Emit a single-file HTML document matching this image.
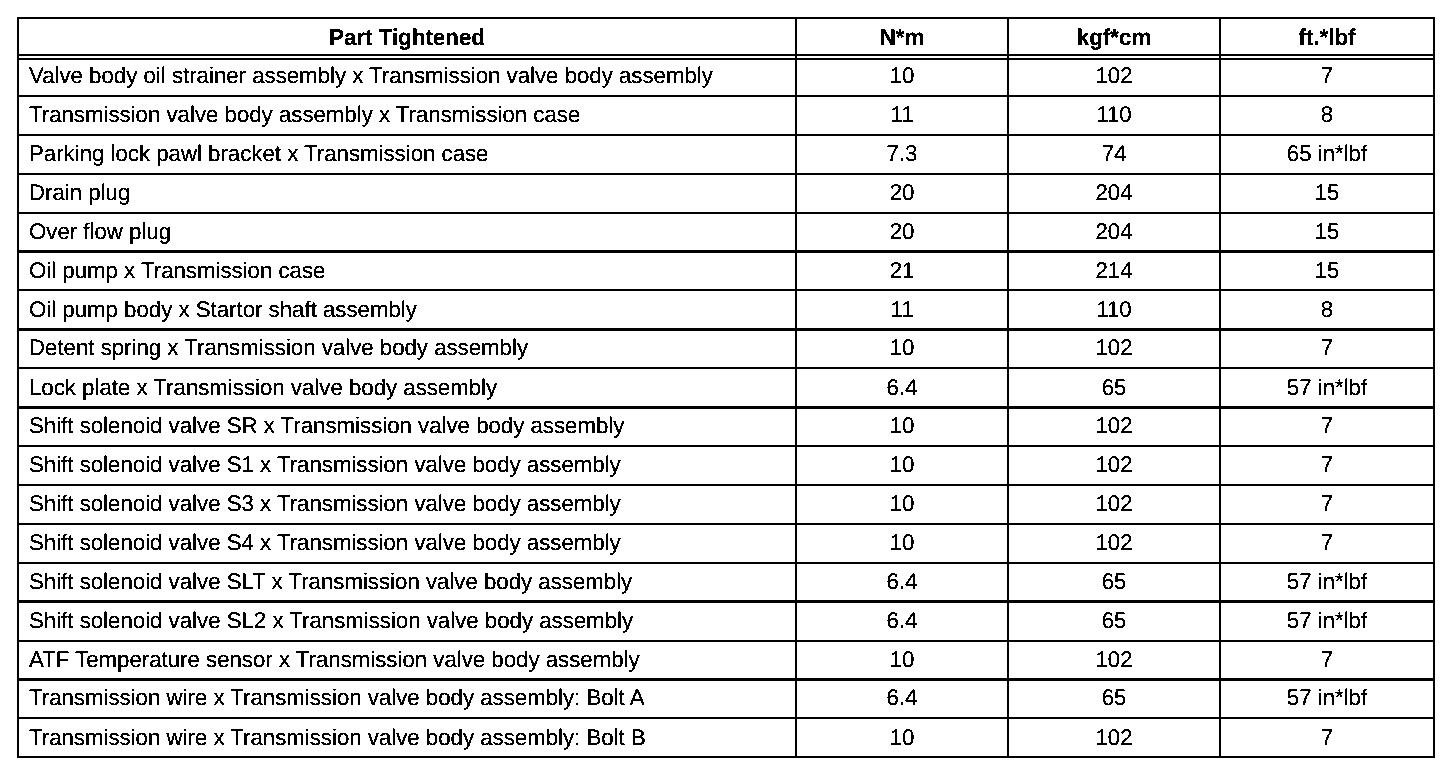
<!DOCTYPE html>
<html><head><meta charset="utf-8"><style>
html,body{margin:0;padding:0;background:#fff;width:1456px;height:774px;overflow:hidden}
svg{display:block}
text{font-family:"Liberation Sans",sans-serif;font-size:22.6px;fill:#000;text-rendering:geometricPrecision}
text.b{font-weight:bold;font-size:23.0px;text-rendering:geometricPrecision}
</style></head><body>
<svg width="1456" height="774" viewBox="0 0 1456 774">
<defs><filter id="th" filterUnits="userSpaceOnUse" x="0" y="0" width="1456" height="774" color-interpolation-filters="sRGB"><feComponentTransfer><feFuncA type="discrete" tableValues="0 1 1"/></feComponentTransfer></filter></defs>
<g shape-rendering="crispEdges"><rect x="17" y="17" width="1418" height="2"/>
<rect x="17" y="54" width="1418" height="2"/>
<rect x="17" y="58" width="1418" height="2"/>
<rect x="17" y="95" width="1418" height="2"/>
<rect x="17" y="134" width="1418" height="2"/>
<rect x="17" y="173" width="1418" height="2"/>
<rect x="17" y="212" width="1418" height="2"/>
<rect x="17" y="250" width="1418" height="3"/>
<rect x="17" y="289" width="1418" height="2"/>
<rect x="17" y="328" width="1418" height="3"/>
<rect x="17" y="367" width="1418" height="2"/>
<rect x="17" y="406" width="1418" height="3"/>
<rect x="17" y="445" width="1418" height="2"/>
<rect x="17" y="484" width="1418" height="2"/>
<rect x="17" y="523" width="1418" height="2"/>
<rect x="17" y="562" width="1418" height="2"/>
<rect x="17" y="600" width="1418" height="3"/>
<rect x="17" y="640" width="1418" height="2"/>
<rect x="17" y="678" width="1418" height="3"/>
<rect x="17" y="717" width="1418" height="2"/>
<rect x="17" y="756" width="1418" height="2"/>
<rect x="17" y="17" width="2" height="741"/>
<rect x="795" y="17" width="2" height="741"/>
<rect x="1007" y="17" width="2" height="741"/>
<rect x="1219" y="17" width="2" height="741"/>
<rect x="1433" y="17" width="2" height="741"/></g>
<g filter="url(#th)"><text class="b" x="0" y="0" transform="translate(407.0 45) scale(0.9717 1)" text-anchor="middle">Part Tightened</text>
<text class="b" x="0" y="0" transform="translate(902.0 45) scale(0.9717 1)" text-anchor="middle">N*m</text>
<text class="b" x="0" y="0" transform="translate(1114.0 45) scale(0.9717 1)" text-anchor="middle">kgf*cm</text>
<text class="b" x="0" y="0" transform="translate(1327.0 45) scale(0.9717 1)" text-anchor="middle">ft.*lbf</text>
<text transform="translate(29 83) scale(0.98363 1)">Valve body oil strainer assembly x Transmission valve body assembly</text>
<text transform="translate(902.0 83) scale(0.98363 1)" text-anchor="middle">10</text>
<text transform="translate(1114.0 83) scale(0.98363 1)" text-anchor="middle">102</text>
<text transform="translate(1327.0 83) scale(0.98363 1)" text-anchor="middle">7</text>
<text transform="translate(29 122) scale(0.98363 1)">Transmission valve body assembly x Transmission case</text>
<text transform="translate(902.0 122) scale(0.98363 1)" text-anchor="middle">11</text>
<text transform="translate(1114.0 122) scale(0.98363 1)" text-anchor="middle">110</text>
<text transform="translate(1327.0 122) scale(0.98363 1)" text-anchor="middle">8</text>
<text transform="translate(29 161) scale(0.98363 1)">Parking lock pawl bracket x Transmission case</text>
<text transform="translate(902.0 161) scale(0.98363 1)" text-anchor="middle">7.3</text>
<text transform="translate(1114.0 161) scale(0.98363 1)" text-anchor="middle">74</text>
<text transform="translate(1327.0 161) scale(0.98363 1)" text-anchor="middle">65 in*lbf</text>
<text transform="translate(29 200) scale(0.98363 1)">Drain plug</text>
<text transform="translate(902.0 200) scale(0.98363 1)" text-anchor="middle">20</text>
<text transform="translate(1114.0 200) scale(0.98363 1)" text-anchor="middle">204</text>
<text transform="translate(1327.0 200) scale(0.98363 1)" text-anchor="middle">15</text>
<text transform="translate(29 239) scale(0.98363 1)">Over flow plug</text>
<text transform="translate(902.0 239) scale(0.98363 1)" text-anchor="middle">20</text>
<text transform="translate(1114.0 239) scale(0.98363 1)" text-anchor="middle">204</text>
<text transform="translate(1327.0 239) scale(0.98363 1)" text-anchor="middle">15</text>
<text transform="translate(29 278) scale(0.98363 1)">Oil pump x Transmission case</text>
<text transform="translate(902.0 278) scale(0.98363 1)" text-anchor="middle">21</text>
<text transform="translate(1114.0 278) scale(0.98363 1)" text-anchor="middle">214</text>
<text transform="translate(1327.0 278) scale(0.98363 1)" text-anchor="middle">15</text>
<text transform="translate(29 317) scale(0.98363 1)">Oil pump body x Startor shaft assembly</text>
<text transform="translate(902.0 317) scale(0.98363 1)" text-anchor="middle">11</text>
<text transform="translate(1114.0 317) scale(0.98363 1)" text-anchor="middle">110</text>
<text transform="translate(1327.0 317) scale(0.98363 1)" text-anchor="middle">8</text>
<text transform="translate(29 355) scale(0.98363 1)">Detent spring x Transmission valve body assembly</text>
<text transform="translate(902.0 355) scale(0.98363 1)" text-anchor="middle">10</text>
<text transform="translate(1114.0 355) scale(0.98363 1)" text-anchor="middle">102</text>
<text transform="translate(1327.0 355) scale(0.98363 1)" text-anchor="middle">7</text>
<text transform="translate(29 395) scale(0.98363 1)">Lock plate x Transmission valve body assembly</text>
<text transform="translate(902.0 395) scale(0.98363 1)" text-anchor="middle">6.4</text>
<text transform="translate(1114.0 395) scale(0.98363 1)" text-anchor="middle">65</text>
<text transform="translate(1327.0 395) scale(0.98363 1)" text-anchor="middle">57 in*lbf</text>
<text transform="translate(29 433) scale(0.98363 1)">Shift solenoid valve SR x Transmission valve body assembly</text>
<text transform="translate(902.0 433) scale(0.98363 1)" text-anchor="middle">10</text>
<text transform="translate(1114.0 433) scale(0.98363 1)" text-anchor="middle">102</text>
<text transform="translate(1327.0 433) scale(0.98363 1)" text-anchor="middle">7</text>
<text transform="translate(29 472) scale(0.98363 1)">Shift solenoid valve S1 x Transmission valve body assembly</text>
<text transform="translate(902.0 472) scale(0.98363 1)" text-anchor="middle">10</text>
<text transform="translate(1114.0 472) scale(0.98363 1)" text-anchor="middle">102</text>
<text transform="translate(1327.0 472) scale(0.98363 1)" text-anchor="middle">7</text>
<text transform="translate(29 511) scale(0.98363 1)">Shift solenoid valve S3 x Transmission valve body assembly</text>
<text transform="translate(902.0 511) scale(0.98363 1)" text-anchor="middle">10</text>
<text transform="translate(1114.0 511) scale(0.98363 1)" text-anchor="middle">102</text>
<text transform="translate(1327.0 511) scale(0.98363 1)" text-anchor="middle">7</text>
<text transform="translate(29 550) scale(0.98363 1)">Shift solenoid valve S4 x Transmission valve body assembly</text>
<text transform="translate(902.0 550) scale(0.98363 1)" text-anchor="middle">10</text>
<text transform="translate(1114.0 550) scale(0.98363 1)" text-anchor="middle">102</text>
<text transform="translate(1327.0 550) scale(0.98363 1)" text-anchor="middle">7</text>
<text transform="translate(29 589) scale(0.98363 1)">Shift solenoid valve SLT x Transmission valve body assembly</text>
<text transform="translate(902.0 589) scale(0.98363 1)" text-anchor="middle">6.4</text>
<text transform="translate(1114.0 589) scale(0.98363 1)" text-anchor="middle">65</text>
<text transform="translate(1327.0 589) scale(0.98363 1)" text-anchor="middle">57 in*lbf</text>
<text transform="translate(29 628) scale(0.98363 1)">Shift solenoid valve SL2 x Transmission valve body assembly</text>
<text transform="translate(902.0 628) scale(0.98363 1)" text-anchor="middle">6.4</text>
<text transform="translate(1114.0 628) scale(0.98363 1)" text-anchor="middle">65</text>
<text transform="translate(1327.0 628) scale(0.98363 1)" text-anchor="middle">57 in*lbf</text>
<text transform="translate(29 667) scale(0.98363 1)">ATF Temperature sensor x Transmission valve body assembly</text>
<text transform="translate(902.0 667) scale(0.98363 1)" text-anchor="middle">10</text>
<text transform="translate(1114.0 667) scale(0.98363 1)" text-anchor="middle">102</text>
<text transform="translate(1327.0 667) scale(0.98363 1)" text-anchor="middle">7</text>
<text transform="translate(29 705) scale(0.98363 1)">Transmission wire x Transmission valve body assembly: Bolt A</text>
<text transform="translate(902.0 705) scale(0.98363 1)" text-anchor="middle">6.4</text>
<text transform="translate(1114.0 705) scale(0.98363 1)" text-anchor="middle">65</text>
<text transform="translate(1327.0 705) scale(0.98363 1)" text-anchor="middle">57 in*lbf</text>
<text transform="translate(29 745) scale(0.98363 1)">Transmission wire x Transmission valve body assembly: Bolt B</text>
<text transform="translate(902.0 745) scale(0.98363 1)" text-anchor="middle">10</text>
<text transform="translate(1114.0 745) scale(0.98363 1)" text-anchor="middle">102</text>
<text transform="translate(1327.0 745) scale(0.98363 1)" text-anchor="middle">7</text></g>
</svg>
</body></html>
